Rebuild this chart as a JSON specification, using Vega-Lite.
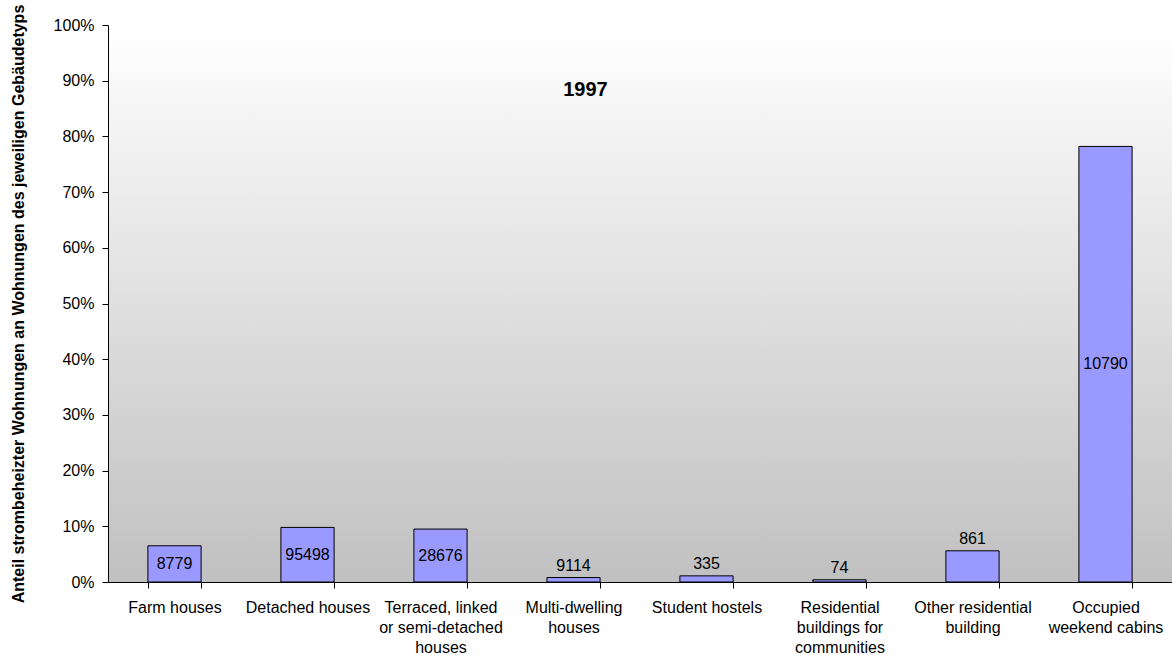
{
  "$schema": "https://vega.github.io/schema/vega-lite/v6.json",
  "width": 1064,
  "height": 557,
  "autosize": {"type": "none"},
  "padding": {"left": 108, "top": 25, "right": 0, "bottom": 73},
  "background": "white",
  "config": {
    "font": "Liberation Sans",
    "view": {
      "stroke": null,
      "fill": {
        "gradient": "linear", "x1": 0, "y1": 0, "x2": 0, "y2": 1,
        "stops": [{"offset": 0, "color": "#ffffff"}, {"offset": 1, "color": "#c0c0c0"}]
      }
    },
    "axis": {
      "grid": false,
      "domainColor": "#000000",
      "tickColor": "#000000",
      "labelColor": "#000000",
      "titleColor": "#000000",
      "labelFont": "Liberation Sans",
      "titleFont": "Liberation Sans",
      "labelFontSize": 16
    }
  },
  "data": {
    "values": [
      {"type": "Farm houses", "share": 0.065, "count": 8779},
      {"type": "Detached houses", "share": 0.098, "count": 95498},
      {"type": "Terraced, linked or semi-detached houses", "share": 0.095, "count": 28676},
      {"type": "Multi-dwelling houses", "share": 0.008, "count": 9114},
      {"type": "Student hostels", "share": 0.011, "count": 335},
      {"type": "Residential buildings for communities", "share": 0.004, "count": 74},
      {"type": "Other residential building", "share": 0.056, "count": 861},
      {"type": "Occupied weekend cabins", "share": 0.782, "count": 10790}
    ]
  },
  "encoding": {
    "x": {
      "field": "type",
      "type": "nominal",
      "sort": null,
      "scale": {"paddingInner": 0.6, "paddingOuter": 0.3},
      "axis": {
        "title": null,
        "labelAngle": 0,
        "tickBand": "extent",
        "tickSize": 6,
        "labelPadding": 11,
        "labelLineHeight": 20,
        "labelLimit": 200,
        "labelExpr": "datum.value == 'Terraced, linked or semi-detached houses' ? ['Terraced, linked', 'or semi-detached', 'houses'] : datum.value == 'Multi-dwelling houses' ? ['Multi-dwelling', 'houses'] : datum.value == 'Residential buildings for communities' ? ['Residential', 'buildings for', 'communities'] : datum.value == 'Other residential building' ? ['Other residential', 'building'] : datum.value == 'Occupied weekend cabins' ? ['Occupied', 'weekend cabins'] : datum.label"
      }
    }
  },
  "layer": [
    {
      "mark": {"type": "bar", "fill": "#9999ff", "stroke": "#000000", "strokeWidth": 1},
      "encoding": {
        "y": {
          "field": "share",
          "type": "quantitative",
          "scale": {"domain": [0, 1], "nice": false},
          "axis": {
            "values": [0, 0.1, 0.2, 0.3, 0.4, 0.5, 0.6, 0.7, 0.8, 0.9, 1],
            "format": ".0%",
            "tickSize": 6,
            "labelPadding": 8,
            "title": "Anteil strombeheizter Wohnungen an Wohnungen des jeweiligen Gebäudetyps",
            "titleFontSize": 16,
            "titleFontWeight": "bold",
            "titlePadding": 27
          }
        }
      }
    },
    {
      "transform": [
        {"filter": "datum.share >= 0.06"},
        {"calculate": "datum.share / 2", "as": "mid"}
      ],
      "mark": {"type": "text", "fontSize": 16, "color": "#000000", "baseline": "middle"},
      "encoding": {
        "y": {"field": "mid", "type": "quantitative"},
        "text": {"field": "count", "type": "nominal"}
      }
    },
    {
      "transform": [{"filter": "datum.share < 0.06"}],
      "mark": {"type": "text", "fontSize": 16, "color": "#000000", "baseline": "bottom", "dy": -4},
      "encoding": {
        "y": {"field": "share", "type": "quantitative"},
        "text": {"field": "count", "type": "nominal"}
      }
    },
    {
      "data": {"values": [{"label": "1997"}]},
      "mark": {"type": "text", "fontSize": 20, "fontWeight": "bold", "color": "#000000", "baseline": "middle", "dx": 12},
      "encoding": {
        "x": {"datum": "Multi-dwelling houses"},
        "y": {"datum": 0.883},
        "text": {"field": "label", "type": "nominal"}
      }
    }
  ]
}
